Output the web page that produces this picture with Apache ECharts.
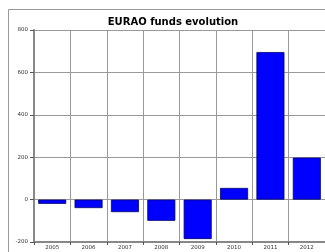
<!DOCTYPE html>
<html>
<head>
<meta charset="utf-8">
<script src="https://cdn.jsdelivr.net/npm/echarts@6/dist/echarts.min.js"></script>
<style>html,body{margin:0;padding:0;background:#fff}#c{width:325px;height:252px}</style>
</head>
<body>
<div id="c"></div>
<script>
var categories = ['2005','2006','2007','2008','2009','2010','2011','2012'];
var funds = [-20, -40, -59, -100, -186, 55, 696, 198];
var yTicks = [-200, 0, 200, 400, 600, 800];

var chart = echarts.init(document.getElementById('c'), null, {renderer:'canvas'});
chart.setOption({
  animation: false,
  backgroundColor: '#fff',
  title: {
    text: 'EURAO funds evolution',
    left: 168, top: 12.5, textAlign: 'center',
    textStyle: {fontFamily: 'DejaVu Sans', fontWeight: 'bold', fontSize: 10, color: '#000'}
  },
  graphic: [{
    type: 'rect', silent: true, z: -1,
    shape: {x: 8.5, y: 9.5, width: 330, height: 260},
    style: {fill: 'none', stroke: '#999', lineWidth: 1}
  }],
  grid: {left: 34, right: 0, top: 30, bottom: 10, containLabel: false},
  xAxis: {
    type: 'category', data: categories,
    axisLine: {onZero: false, lineStyle: {color: '#888', width: 2}},
    axisTick: {show: true, alignWithLabel: false, length: 3, lineStyle: {color: '#555'}},
    axisLabel: {fontFamily: 'DejaVu Sans', fontSize: 5.5, color: '#333', margin: 3},
    splitLine: {show: true, lineStyle: {color: '#999', width: 1}}
  },
  yAxis: {
    type: 'value', min: yTicks[0], max: yTicks[yTicks.length-1], interval: 200,
    axisLine: {show: true, lineStyle: {color: '#888', width: 2}},
    axisTick: {show: true, length: 4, lineStyle: {color: '#555'}},
    axisLabel: {fontFamily: 'DejaVu Sans', fontSize: 5.5, color: '#333', margin: 6},
    splitLine: {show: true, lineStyle: {color: '#999', width: 1}}
  },
  series: [{
    type: 'bar', data: funds, barWidth: '77%',
    itemStyle: {color: '#0000ff', borderColor: '#00006a', borderWidth: 0.8}
  }]
});
</script>
</body>
</html>
